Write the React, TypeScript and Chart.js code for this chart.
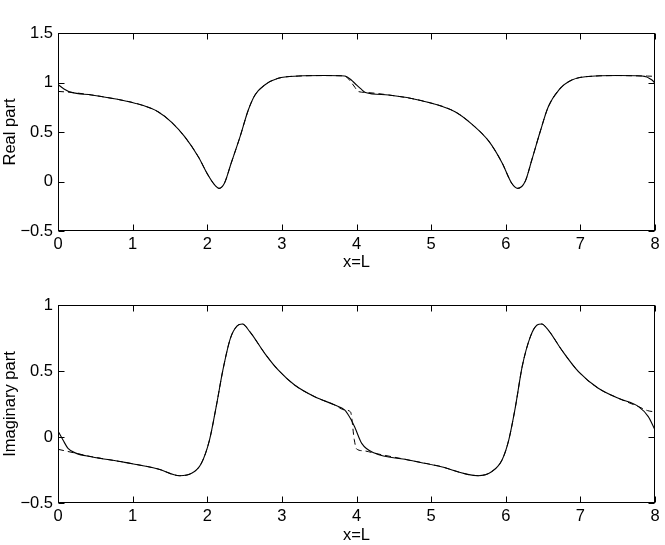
import React, { useEffect, useRef } from "react";
import { Chart, registerables } from "chart.js";

Chart.register(...registerables);

// ---------- data ----------
const realSolidX = [0, 0.08, 0.18, 0.45, 0.89, 1.12, 1.34, 1.52, 1.7, 1.88, 2.01, 2.1, 2.16, 2.23, 2.32, 2.44, 2.55, 2.64, 2.77, 2.95, 3.22, 3.57, 3.84, 3.93, 3.98, 4.06, 4.12, 4.43, 4.875, 5.32, 5.545, 5.77, 5.95, 6.08, 6.16, 6.26, 6.35, 6.46, 6.57, 6.71, 6.885, 7.2, 7.5, 7.825, 7.96, 8.0];
const realSolidY = [0.98, 0.935, 0.9, 0.874, 0.816, 0.773, 0.705, 0.6, 0.45, 0.25, 0.066, -0.035, -0.069, -0.018, 0.184, 0.453, 0.722, 0.874, 0.975, 1.042, 1.065, 1.07, 1.066, 1.025, 0.99, 0.935, 0.9, 0.874, 0.816, 0.705, 0.58, 0.41, 0.19, -0.018, -0.069, 0.0, 0.22, 0.5, 0.755, 0.924, 1.025, 1.065, 1.07, 1.066, 1.025, 0.99];

const realDashX = [0, 0.18, 0.45, 0.89, 1.12, 1.34, 1.52, 1.7, 1.88, 2.01, 2.1, 2.16, 2.23, 2.32, 2.44, 2.55, 2.64, 2.77, 2.95, 3.22, 3.57, 3.84, 3.91, 3.98, 4.02, 4.12, 4.43, 4.875, 5.32, 5.545, 5.77, 5.95, 6.08, 6.16, 6.26, 6.35, 6.46, 6.57, 6.71, 6.885, 7.2, 7.5, 7.825, 7.9, 8.0];
const realDashY = [0.91, 0.9, 0.874, 0.816, 0.773, 0.705, 0.6, 0.45, 0.25, 0.066, -0.035, -0.069, -0.018, 0.184, 0.453, 0.722, 0.874, 0.975, 1.042, 1.065, 1.07, 1.066, 1.02, 0.95, 0.91, 0.9, 0.874, 0.816, 0.705, 0.58, 0.41, 0.19, -0.018, -0.069, 0.0, 0.22, 0.5, 0.755, 0.924, 1.025, 1.065, 1.07, 1.066, 1.065, 1.062];

const imagSolidX = [0, 0.067, 0.134, 0.246, 0.447, 0.894, 1.34, 1.63, 1.79, 1.92, 2.03, 2.12, 2.21, 2.31, 2.4, 2.47, 2.57, 2.77, 2.95, 3.17, 3.44, 3.71, 3.84, 3.93, 3.98, 4.07, 4.25, 4.65, 5.1, 5.63, 5.81, 5.95, 6.04, 6.13, 6.22, 6.33, 6.42, 6.48, 6.57, 6.75, 6.975, 7.24, 7.51, 7.78, 7.91, 8.0];
const imagSolidY = [0.045, -0.023, -0.086, -0.124, -0.149, -0.192, -0.242, -0.293, -0.275, -0.2, -0.023, 0.23, 0.508, 0.747, 0.841, 0.856, 0.798, 0.634, 0.508, 0.394, 0.305, 0.242, 0.205, 0.129, 0.07, -0.048, -0.124, -0.169, -0.22, -0.293, -0.263, -0.174, -0.023, 0.23, 0.533, 0.76, 0.848, 0.856, 0.81, 0.659, 0.495, 0.369, 0.293, 0.23, 0.154, 0.053];

const imagDashX = [0, 0.246, 0.447, 0.894, 1.34, 1.63, 1.79, 1.92, 2.03, 2.12, 2.21, 2.31, 2.4, 2.47, 2.57, 2.77, 2.95, 3.17, 3.44, 3.71, 3.84, 3.92, 3.97, 4.0, 4.1, 4.25, 4.65, 5.1, 5.63, 5.81, 5.95, 6.04, 6.13, 6.22, 6.33, 6.42, 6.48, 6.57, 6.75, 6.975, 7.24, 7.51, 7.78, 7.9, 8.0];
const imagDashY = [-0.093, -0.124, -0.149, -0.192, -0.242, -0.293, -0.275, -0.2, -0.023, 0.23, 0.508, 0.747, 0.841, 0.856, 0.798, 0.634, 0.508, 0.394, 0.305, 0.242, 0.205, 0.19, -0.02, -0.09, -0.105, -0.124, -0.169, -0.22, -0.293, -0.263, -0.174, -0.023, 0.23, 0.533, 0.76, 0.848, 0.856, 0.81, 0.659, 0.495, 0.369, 0.293, 0.23, 0.2, 0.19];

const xMin = 0, xMax = 8, xStep = 1;
const realYMin = -0.5, realYMax = 1.5;
const imagYMin = -0.5, imagYMax = 1;
const yStep = 0.5;

// ---------- styling ----------
const FONT = { family: "'Liberation Sans', Arial, Helvetica, sans-serif", size: 16.5 };

const boxPlugin = {
  id: "matlabBox",
  afterDatasetsDraw(chart: any) {
    const { ctx, chartArea, scales } = chart;
    const L = Math.round(chartArea.left) + 0.5;
    const R = Math.round(chartArea.right) - 0.5;
    const T = Math.round(chartArea.top) + 0.5;
    const B = Math.round(chartArea.bottom) - 0.5;
    const tl = 6;
    ctx.save();
    ctx.strokeStyle = "#000";
    ctx.lineWidth = 1;
    ctx.beginPath();
    scales.x.ticks.forEach((t: any) => {
      const p = Math.round(scales.x.getPixelForValue(t.value)) + 0.5;
      ctx.moveTo(p, B); ctx.lineTo(p, B - tl);
      ctx.moveTo(p, T); ctx.lineTo(p, T + tl);
    });
    scales.y.ticks.forEach((t: any) => {
      const p = Math.round(scales.y.getPixelForValue(t.value)) + 0.5;
      ctx.moveTo(L, p); ctx.lineTo(L + tl, p);
      ctx.moveTo(R, p); ctx.lineTo(R - tl, p);
    });
    ctx.stroke();
    ctx.strokeRect(L, T, R - L, B - T);
    ctx.restore();
  },
};

function pts(xs: number[], ys: number[]) {
  return xs.map((x, i) => ({ x, y: ys[i] }));
}

function makeConfig(
  solidX: number[], solidY: number[], dashX: number[], dashY: number[],
  yMin: number, yMax: number, yTitle: string, xAxisHeight: number
): any {
  return {
    type: "line",
    data: {
      datasets: [
        {
          data: pts(solidX, solidY),
          borderColor: "#000",
          borderWidth: 1.1,
          pointRadius: 0,
          cubicInterpolationMode: "monotone",
          fill: false,
        },
        {
          data: pts(dashX, dashY),
          borderColor: "#000",
          borderWidth: 1,
          borderDash: [6, 4],
          pointRadius: 0,
          cubicInterpolationMode: "monotone",
          fill: false,
        },
      ],
    },
    options: {
      animation: false,
      responsive: false,
      events: [],
      layout: { padding: { top: 33, right: 10, left: 0, bottom: 0 } },
      plugins: { legend: { display: false }, tooltip: { enabled: false } },
      scales: {
        x: {
          type: "linear",
          min: xMin,
          max: xMax,
          grid: { display: false, drawTicks: false },
          border: { display: false },
          ticks: { stepSize: xStep, color: "#000", font: FONT, padding: 4, maxRotation: 0 },
          title: { display: true, text: "x=L", color: "#000", font: FONT, padding: { top: 0, bottom: 0 } },
          afterFit: (s: any) => { s.height = xAxisHeight; },
        },
        y: {
          type: "linear",
          min: yMin,
          max: yMax,
          grid: { display: false, drawTicks: false },
          border: { display: false },
          ticks: {
            stepSize: yStep,
            color: "#000",
            font: FONT,
            padding: 5,
            callback: (v: any) => String(v).replace("-", "\u2212"),
          },
          title: { display: true, text: yTitle, color: "#000", font: FONT, padding: { top: 1, bottom: 3 } },
          afterFit: (s: any) => { s.width = 58; },
        },
      },
    },
    plugins: [boxPlugin],
  };
}

function ChartCanvas({ config, width, height }: { config: any; width: number; height: number }) {
  const ref = useRef<HTMLCanvasElement | null>(null);
  useEffect(() => {
    if (!ref.current) return;
    const chart = new Chart(ref.current, config);
    return () => chart.destroy();
  }, []);
  return <canvas ref={ref} width={width} height={height} style={{ display: "block", width, height }} />;
}

export default function App() {
  return (
    <div style={{ position: "absolute", left: 0, top: 0, width: 665, height: 545, background: "#fff" }}>
      <ChartCanvas
        width={665}
        height={272}
        config={makeConfig(realSolidX, realSolidY, realDashX, realDashY, realYMin, realYMax, "Real part", 41)}
      />
      <ChartCanvas
        width={665}
        height={273}
        config={makeConfig(imagSolidX, imagSolidY, imagDashX, imagDashY, imagYMin, imagYMax, "Imaginary part", 42)}
      />
    </div>
  );
}
